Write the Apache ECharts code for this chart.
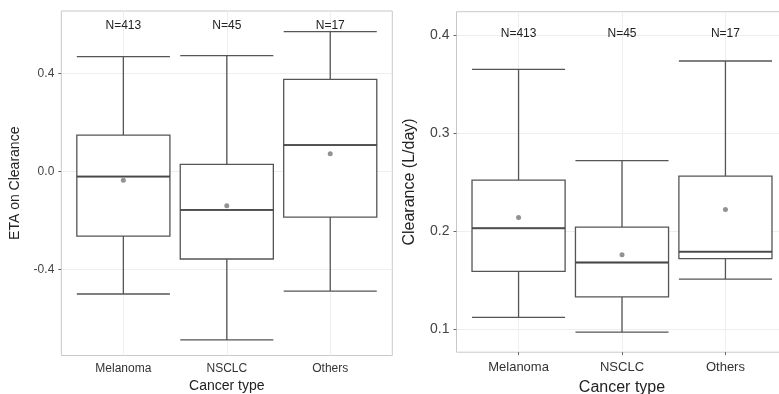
<!DOCTYPE html>
<html>
<head>
<meta charset="utf-8">
<script src="https://cdn.jsdelivr.net/npm/echarts@6/dist/echarts.min.js"></script>
<style>html,body{margin:0;background:#fff}#chart{width:779px;height:394px}</style>
</head>
<body>
<div id="chart"></div>
<script>
var categories = ['Melanoma', 'NSCLC', 'Others'];
var nLabels = ['N=413', 'N=45', 'N=17'];
// [lower whisker, Q1, median, Q3, upper whisker]
var etaBoxes = [
  [-0.501, -0.264, -0.021, 0.149, 0.470],
  [-0.689, -0.358, -0.157, 0.029, 0.474],
  [-0.489, -0.187, 0.108, 0.377, 0.572]
];
var etaMeans = [-0.036, -0.140, 0.073];
var etaTicks = [-0.4, 0, 0.4];

var clBoxes = [
  [0.112, 0.159, 0.203, 0.252, 0.365],
  [0.097, 0.133, 0.168, 0.204, 0.272],
  [0.151, 0.172, 0.179, 0.256, 0.3735]
];
var clMeans = [0.214, 0.176, 0.222];
var clTicks = [0.1, 0.2, 0.3, 0.4];

var chart = echarts.init(document.getElementById('chart'));

var grids = [], xAxes = [], yAxes = [], series = [];

function addPanel(p) {
  var g = grids.length;
  var band = p.width / 3.2;
  // outer frame (ggplot panel incl. 0.6 expansion)
  grids.push({left: p.left, top: p.top, width: p.width, height: p.height,
    outerBoundsMode: 'none',
    show: true, borderColor: '#c8c8c8', borderWidth: 1, backgroundColor: '#fff'});
  // inner grid for the 3 category bands
  grids.push({left: p.left + band * 0.1, top: p.top, width: band * 3, height: p.height,
    outerBoundsMode: 'none'});

  xAxes.push({
    gridIndex: g, type: 'value', min: 0.4, max: 3.6,
    axisLine: {show: false}, axisLabel: {show: false},
    axisTick: {customValues: [1, 2, 3], length: 3, lineStyle: {color: '#666'}},
    splitLine: {show: true, lineStyle: {color: '#eeeeee', width: 1}}
  });
  xAxes.push({
    gridIndex: g + 1, type: 'category', data: categories,
    axisLine: {show: false}, axisTick: {show: false},
    axisLabel: {margin: p.catMargin, color: '#333', fontSize: p.catFont},
    name: 'Cancer type', nameLocation: 'middle', nameGap: p.nameGapX,
    nameTextStyle: {color: '#222', fontSize: p.nameFont}
  });
  xAxes.push({
    gridIndex: g + 1, type: 'category', position: 'top', data: nLabels,
    axisLine: {show: false}, axisTick: {show: false},
    axisLabel: {inside: true, margin: p.nMargin, color: '#222', fontSize: 12}
  });

  yAxes.push({
    gridIndex: g, type: 'value', min: p.min, max: p.max,
    axisLine: {show: false},
    axisTick: {show: true, customValues: p.ticks, length: 3, lineStyle: {color: '#666'}},
    axisLabel: {customValues: p.ticks, color: '#444', fontSize: p.tickFont, margin: p.tickMargin,
      formatter: function (v) { return v.toFixed(1); }},
    splitLine: {show: true, lineStyle: {color: '#eeeeee', width: 1}},
    name: p.yName, nameLocation: 'middle', nameGap: p.nameGapY,
    nameTextStyle: {color: '#222', fontSize: p.nameFont}
  });
  yAxes.push({gridIndex: g + 1, type: 'value', min: p.min, max: p.max, show: false});

  var xi = xAxes.length - 2, yi = yAxes.length - 1;
  var bw = band * 0.9;
  series.push({
    type: 'boxplot', xAxisIndex: xi, yAxisIndex: yi, data: p.boxes,
    boxWidth: [bw, bw],
    itemStyle: {color: '#fff', borderColor: '#555', borderWidth: 1.3}
  });
  series.push({
    type: 'scatter', xAxisIndex: xi, yAxisIndex: yi,
    symbol: 'rect', symbolSize: [bw, 2],
    itemStyle: {color: '#444'},
    data: p.boxes.map(function (b, i) { return [i, b[2]]; })
  });
  series.push({
    type: 'scatter', xAxisIndex: xi, yAxisIndex: yi, symbolSize: 5,
    itemStyle: {color: '#777'},
    data: p.means.map(function (m, i) { return [i, m]; })
  });
}

addPanel({left: 61.3, top: 11, width: 331, height: 344.5,
  min: -0.7526, max: 0.6564, ticks: etaTicks, boxes: etaBoxes, means: etaMeans,
  yName: 'ETA on Clearance', nameGapY: 39, nameGapX: 20, nameFont: 14,
  catFont: 12, catMargin: 7, tickFont: 12, tickMargin: 7, nMargin: 9});

addPanel({left: 456.5, top: 11.7, width: 331, height: 340.5,
  min: 0.0765, max: 0.4238, ticks: clTicks, boxes: clBoxes, means: clMeans,
  yName: 'Clearance (L/day)', nameGapY: 39, nameGapX: 21, nameFont: 16,
  catFont: 13, catMargin: 9, tickFont: 14, tickMargin: 7, nMargin: 16});

chart.setOption({
  animation: false,
  textStyle: {fontFamily: 'Liberation Sans'},
  grid: grids,
  xAxis: xAxes,
  yAxis: yAxes,
  series: series
});
</script>
</body>
</html>
